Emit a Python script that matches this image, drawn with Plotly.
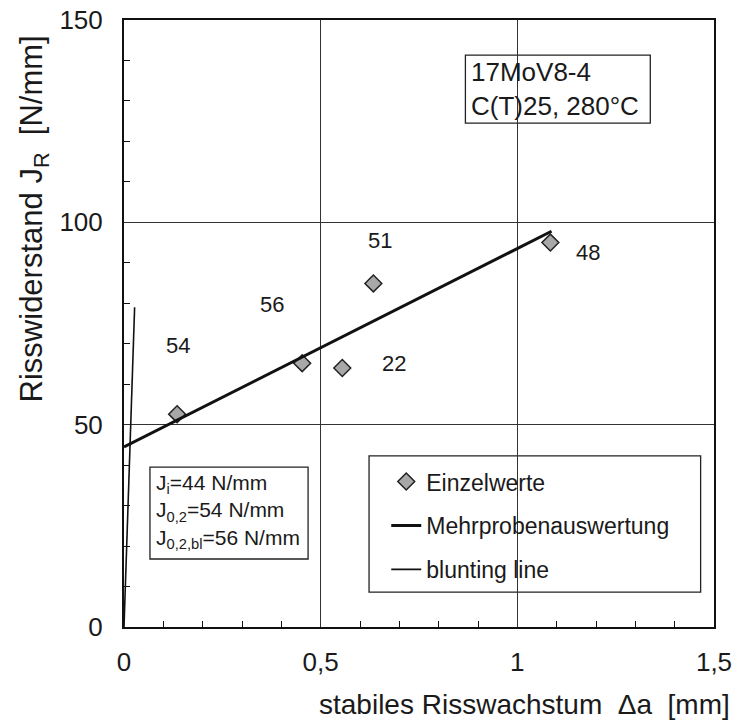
import plotly.graph_objects as go

# ---------------- data ----------------
einzel_da = [0.135, 0.453, 0.555, 0.634, 1.084]
einzel_J = [52.6, 65.2, 64.0, 84.9, 95.0]

probe_labels = ["54", "56", "22", "51", "48"]
label_da = [0.137, 0.377, 0.687, 0.651, 1.18]
label_J = [69.6, 79.8, 65.2, 95.6, 92.6]

mehrprobe_da = [0.0, 1.087]
mehrprobe_J = [44.5, 97.8]

blunting_da = [0.0, 0.027]
blunting_J = [0.0, 79.0]

kennwerte = ["J<sub>i</sub>=44 N/mm", "J<sub>0,2</sub>=54 N/mm", "J<sub>0,2,bl</sub>=56 N/mm"]
werkstoff = ["17MoV8-4", "C(T)25, 280°C"]

x_title = "stabiles Risswachstum  \u0394a  [mm]"
y_title = "Risswiderstand J<sub>R</sub>  [N/mm]"

FONT = "Liberation Sans, Arial, sans-serif"
TXT = "#1a1a1a"

fig = go.Figure()

fig.add_trace(go.Scatter(
    x=einzel_da, y=einzel_J, mode="markers", name="Einzelwerte",
    legendgroup="a",
    marker=dict(symbol="diamond", size=13, color="#a8a8a8",
                line=dict(color="#222222", width=1.5)),
))
fig.add_trace(go.Scatter(
    x=mehrprobe_da, y=mehrprobe_J, mode="lines", name="Mehrprobenauswertung",
    legendgroup="b",
    line=dict(color="#111111", width=3),
))
fig.add_trace(go.Scatter(
    x=blunting_da, y=blunting_J, mode="lines", name="blunting line",
    legendgroup="c",
    line=dict(color="#111111", width=1.6),
))

# probe number labels
for t, xa, ya in zip(probe_labels, label_da, label_J):
    fig.add_annotation(x=xa, y=ya, xref="x", yref="y", text=t, showarrow=False,
                       font=dict(family=FONT, size=22, color=TXT))

# boxes (white filled, above grid)
box_line = dict(color="#222222", width=1.3)
fig.add_shape(type="rect", xref="x", yref="y", x0=0.623, x1=1.466, y0=8.6, y1=42.3,
              fillcolor="white", line=box_line, layer="below")
fig.add_shape(type="rect", xref="x", yref="y", x0=0.066, x1=0.468, y0=16.8, y1=39.5,
              fillcolor="white", line=box_line, layer="below")
fig.add_shape(type="rect", xref="x", yref="y", x0=0.868, x1=1.338, y0=124.5, y1=141.3,
              fillcolor="white", line=box_line, layer="below")

fig.add_annotation(x=0.076, y=28.6, xref="x", yref="y", xanchor="left", yanchor="middle",
                   align="left", showarrow=False, text="<br>".join(kennwerte),
                   font=dict(family=FONT, size=21, color=TXT))
fig.add_annotation(x=0.877, y=133.0, xref="x", yref="y", xanchor="left", yanchor="middle",
                   align="left", showarrow=False, text="<br>".join(werkstoff),
                   font=dict(family=FONT, size=26, color=TXT))

# axis titles
fig.add_annotation(x=1.031, y=-0.128, xref="paper", yref="paper", xanchor="right",
                   yanchor="middle", showarrow=False, text=x_title,
                   font=dict(family=FONT, size=28, color=TXT))
fig.add_annotation(x=-0.152, y=0.672, xref="paper", yref="paper", xanchor="center",
                   yanchor="middle", showarrow=False, text=y_title, textangle=-90,
                   font=dict(family=FONT, size=31, color=TXT))

axis_common = dict(
    showgrid=True, gridcolor="#333333", gridwidth=1,
    showline=True, linecolor="#111111", linewidth=2, mirror=True,
    ticks="", zeroline=False, automargin=False,
    tickfont=dict(family=FONT, size=26, color=TXT),
)

fig.update_xaxes(range=[0, 1.5], tickmode="linear", tick0=0, dtick=0.5,
                 ticklabelstandoff=11,
                 minor=dict(tickmode="linear", tick0=0, dtick=0.1, ticks="inside",
                            ticklen=6, tickwidth=1.2, tickcolor="#111111", showgrid=False),
                 **axis_common)
fig.update_yaxes(range=[0, 150], tickmode="linear", tick0=0, dtick=50,
                 ticklabelstandoff=14,
                 minor=dict(tickmode="linear", tick0=0, dtick=10, ticks="inside",
                            ticklen=6, tickwidth=1.2, tickcolor="#111111", showgrid=False),
                 **axis_common)

fig.update_layout(
    width=740, height=724,
    margin=dict(l=124, r=26, t=20, b=97),
    paper_bgcolor="white", plot_bgcolor="white",
    separators=",.",
    font=dict(family=FONT, color=TXT),
    showlegend=True,
    legend=dict(
        x=0.4445, y=0.275, xanchor="left", yanchor="top",
        bgcolor="rgba(0,0,0,0)", borderwidth=0,
        traceorder="grouped", tracegroupgap=11,
        font=dict(family=FONT, size=23, color=TXT),
    ),
)

fig.write_html("out.html", config={"displayModeBar": False},
               post_script="document.body.style.margin='0';")
